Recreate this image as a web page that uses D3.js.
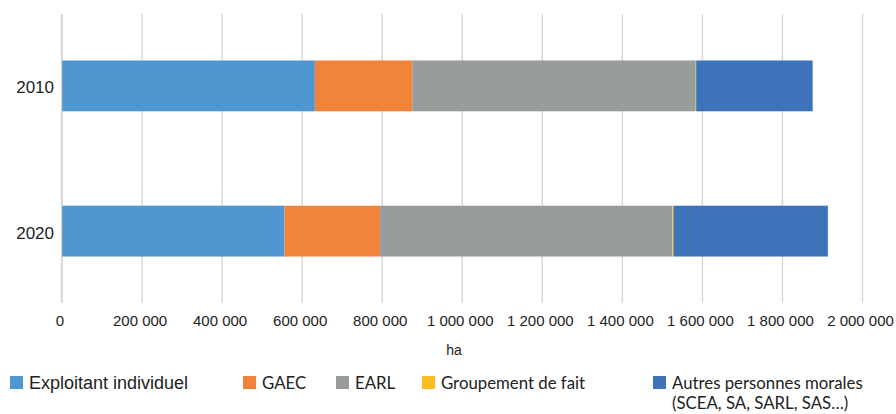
<!DOCTYPE html>
<html>
<head>
<meta charset="utf-8">
<script src="https://cdn.jsdelivr.net/npm/d3@7/dist/d3.min.js"></script>
<style>
  body { margin: 0; background: #fff; }
  svg { display: block; }
</style>
</head>
<body>
<div id="chart"></div>
<script>
// data (hectares)
var years = ["2010", "2020"];
var series = ["Exploitant individuel", "GAEC", "EARL", "Groupement de fait", "Autres personnes morales"];
var exploitant = [633000, 557000];
var gaec = [243500, 239000];
var earl = [708000, 730000];
var groupement = [1200, 2800];
var autres = [291000, 386000];
var xTicks = [0, 200000, 400000, 600000, 800000, 1000000, 1200000, 1400000, 1600000, 1800000, 2000000];
var colors = ["#4e97d1", "#f0843a", "#999c9c", "#fbbd22", "#3d73b9"];

var w = 896, h = 414;
// note: "top" is a reserved window property, so plot edges get their own names
var plotL = 61.5, plotR = 862, plotT = 14, plotB = 303;

var rows = years.map(function(y, i) {
  return {
    year: y,
    "Exploitant individuel": exploitant[i],
    "GAEC": gaec[i],
    "EARL": earl[i],
    "Groupement de fait": groupement[i],
    "Autres personnes morales": autres[i]
  };
});

var stack = d3.stack().keys(series)(rows);

var fr = d3.formatLocale({decimal: ",", thousands: " ", grouping: [3], currency: ["", " €"]});
var fmt = fr.format(",");

var x = d3.scaleLinear().domain([0, 2000000]).range([plotL, plotR]);
var y = d3.scaleBand().domain(years).range([plotT, plotB])
  .paddingInner(0.65).paddingOuter(0.32);
var color = d3.scaleOrdinal().domain(series).range(colors);

var svg = d3.select("#chart").append("svg")
  .attr("width", w)
  .attr("height", h);

// vertical gridlines
var xAxis = svg.append("g")
  .attr("transform", "translate(0," + plotB + ")")
  .call(d3.axisBottom(x).tickValues(xTicks).tickFormat(fmt).tickSize(-(plotB - plotT)).tickPadding(12));
xAxis.select(".domain").remove();
xAxis.selectAll(".tick line").attr("stroke", "#d6d6d6").attr("stroke-width", 1.4);
xAxis.selectAll(".tick text")
  .attr("fill", "#222")
  .attr("dx", -2)
  .style("font-family", "'Liberation Sans', Arial, sans-serif")
  .style("font-size", "15px");

// bars
svg.append("g").selectAll("g")
  .data(stack)
  .enter().append("g")
  .attr("fill", function(d) { return color(d.key); })
  .selectAll("rect")
  .data(function(d) { return d; })
  .enter().append("rect")
  .attr("x", function(d) { return x(d[0]); })
  .attr("y", function(d) { return y(d.data.year); })
  .attr("width", function(d) { return Math.max(0, x(d[1]) - x(d[0])); })
  .attr("height", y.bandwidth());

// category axis line
svg.append("line")
  .attr("x1", x(0)).attr("x2", x(0))
  .attr("y1", plotT).attr("y2", plotB)
  .attr("stroke", "#d6d6d6").attr("stroke-width", 1.4);

svg.append("g").selectAll("text")
  .data(years)
  .enter().append("text")
  .attr("x", 54)
  .attr("y", function(d) { return y(d) + y.bandwidth() / 2 + 1.5; })
  .attr("dy", "0.35em")
  .attr("text-anchor", "end")
  .attr("fill", "#222")
  .style("font-family", "'Liberation Sans', Arial, sans-serif")
  .style("font-size", "17px")
  .text(function(d) { return d; });

// axis title
svg.append("text")
  .attr("x", 454).attr("y", 355)
  .attr("text-anchor", "middle")
  .attr("fill", "#222")
  .style("font-family", "'Liberation Sans', Arial, sans-serif")
  .style("font-size", "14px")
  .text("ha");

// legend
var legX = [10, 243, 336, 422, 653];
var leg = svg.append("g").selectAll("g")
  .data(series)
  .enter().append("g")
  .attr("transform", function(d, i) { return "translate(" + legX[i] + ",376)"; });

leg.append("rect")
  .attr("width", 13).attr("height", 13)
  .attr("fill", function(d) { return color(d); });

leg.append("text")
  .attr("x", 19)
  .attr("y", 13)
  .attr("fill", "#222")
  .style("font-family", function(d, i) { return i == 0 ? "'Liberation Sans', Arial, sans-serif" : "Lato, 'Open Sans', sans-serif"; })
  .style("font-size", function(d, i) { return i == 0 ? "18px" : "16.8px"; })
  .text(function(d) { return d; });

leg.filter(function(d, i) { return i == 4; })
  .append("text")
  .attr("x", 19).attr("y", 32.5)
  .attr("fill", "#222")
  .style("font-family", "Lato, 'Open Sans', sans-serif")
  .style("font-size", "16.8px")
  .text("(SCEA, SA, SARL, SAS…)");
</script>
</body>
</html>
